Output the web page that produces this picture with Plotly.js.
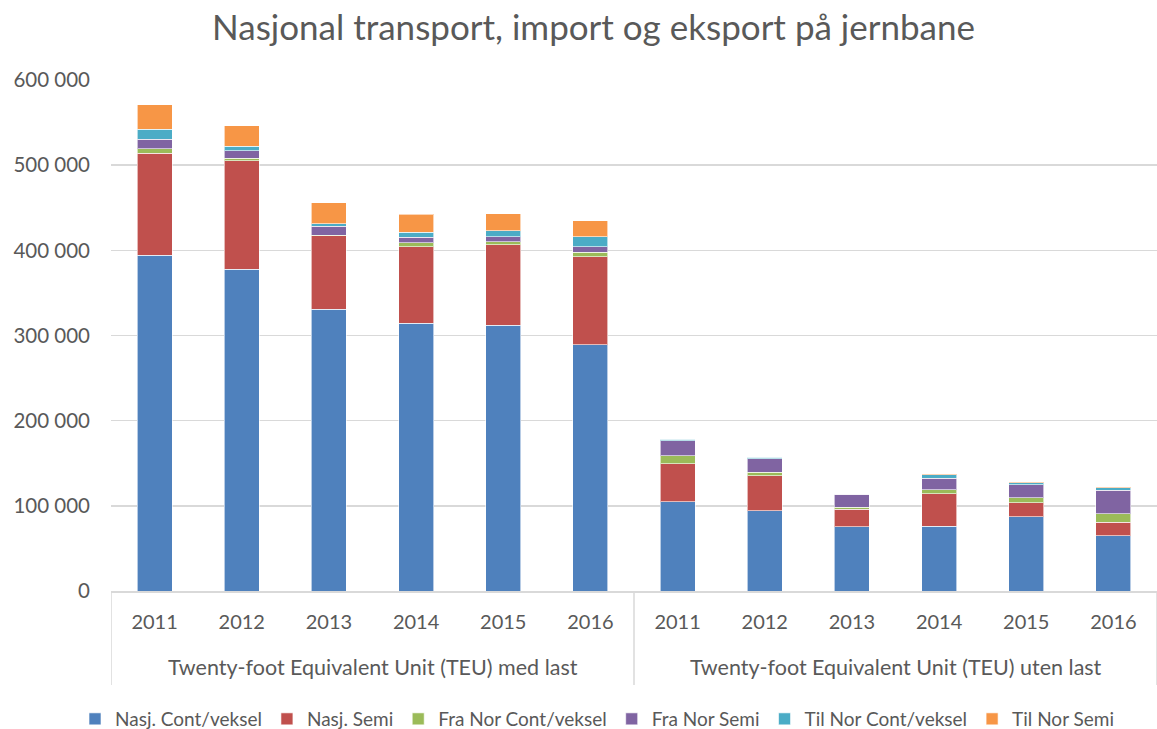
<!DOCTYPE html>
<html><head><meta charset="utf-8">
<script src="https://cdn.plot.ly/plotly-3.0.1.min.js"></script>
<style>html,body{margin:0;padding:0;background:#fff}</style>
</head><body>
<div id="chart" style="width:1157px;height:729px"></div>
<script>
const groups = ["Twenty-foot Equivalent Unit (TEU) med last","Twenty-foot Equivalent Unit (TEU) uten last"];
const years = ["2011","2012","2013","2014","2015","2016"];
const seriesNames = ["Nasj. Cont/veksel","Nasj. Semi","Fra Nor Cont/veksel","Fra Nor Semi","Til Nor Cont/veksel","Til Nor Semi"];
const seriesColors = ["#4F81BD","#C0504D","#9BBB59","#8064A2","#4BACC6","#F79646"];
// values: first 6 = med last 2011-2016, next 6 = uten last 2011-2016
const nasjCont   = [394000,378000,331000,314500,312000,289000, 105000,94000,75500,76000,87000,65000];
const nasjSemi   = [120000,127000,86000,89500,94500,103500, 44500,41500,20500,38000,16500,15500];
const fraNorCont = [5500,3000,500,5000,3500,5000, 9500,4000,2500,5000,6000,10500];
const fraNorSemi = [11000,9000,11000,6500,6000,6500, 17500,15500,15000,13500,15000,27500];
const tilNorCont = [11500,5500,2500,6000,7000,12000, 1500,2000,300,4000,2500,3000];
const tilNorSemi = [29000,24000,25000,21000,20000,19000, 1000,500,300,300,1000,1000];
const allSeries = [nasjCont,nasjSemi,fraNorCont,fraNorSemi,tilNorCont,tilNorSemi];

// unique category keys (group + year); shown with year-only tick text
const cats = [], catText = [];
groups.forEach(g => years.forEach(y => { cats.push(g + " | " + y); catText.push(y); }));

const traces = allSeries.map((vals, i) => ({
  type: "bar",
  name: seriesNames[i],
  x: cats,
  y: vals,
  marker: {color: seriesColors[i], line: {color: "rgba(255,255,255,0.6)", width: 1}},
  hoverinfo: "y+name"
}));

const font = "Lato, 'Open Sans', sans-serif";
const plotH = 729 - 80 - 138;
const shapes = [];
const annotations = [];
// group dividers and group labels
const nPer = years.length;
for (let gi = 0; gi <= groups.length; gi++) {
  shapes.push({type: "line", xref: "x", yref: "paper", x0: gi * nPer - 0.5, x1: gi * nPer - 0.5,
               y0: 0, y1: -(685 - 591) / plotH, line: {color: "#d9d9d9", width: 1.5}});
}
groups.forEach((g, gi) => {
  annotations.push({text: g, xref: "x", yref: "paper", x: gi * nPer + (nPer - 1) / 2, y: -(667 - 591) / plotH,
                    xanchor: "center", yanchor: "middle", showarrow: false,
                    font: {family: font, size: 21.5, color: "#595959"}});
});

const layout = {
  width: 1157, height: 729,
  margin: {l: 111, r: 0, t: 80, b: 138},
  barmode: "stack",
  bargap: 0.6,
  separators: ", ",
  paper_bgcolor: "#fff", plot_bgcolor: "#fff",
  font: {family: font, color: "#595959", size: 18},
  title: {text: "Nasjonal transport, import og eksport på jernbane", x: 0.513, xanchor: "center", y: 0.962, yanchor: "middle",
          font: {family: font, size: 35, color: "#595959"}},
  xaxis: {
    type: "category",
    range: [-0.5, cats.length - 0.5],
    tickvals: cats, ticktext: catText,
    tickfont: {family: font, size: 20, color: "#595959"},
    showline: true, linecolor: "#d9d9d9", linewidth: 1.5,
    ticks: "", showgrid: false, ticklabelstandoff: 12
  },
  yaxis: {
    range: [0, 600000], dtick: 100000, tickformat: ",d",
    showgrid: true, gridcolor: "#d9d9d9", gridwidth: 1.5,
    zeroline: false, showline: false, ticks: "",
    tickfont: {family: font, size: 20.5, color: "#595959"},
    ticklabelstandoff: 20
  },
  shapes: shapes,
  annotations: annotations,
  legend: {orientation: "h", xref: "container", x: 0.516, xanchor: "center", yref: "container", y: 10 / 729, yanchor: "middle",
           font: {family: font, size: 19, color: "#595959"}, itemwidth: 30, traceorder: "normal", tracegroupgap: 0},
  showlegend: true
};
Plotly.newPlot("chart", traces, layout, {displayModeBar: false, staticPlot: true});
</script>
</body></html>
